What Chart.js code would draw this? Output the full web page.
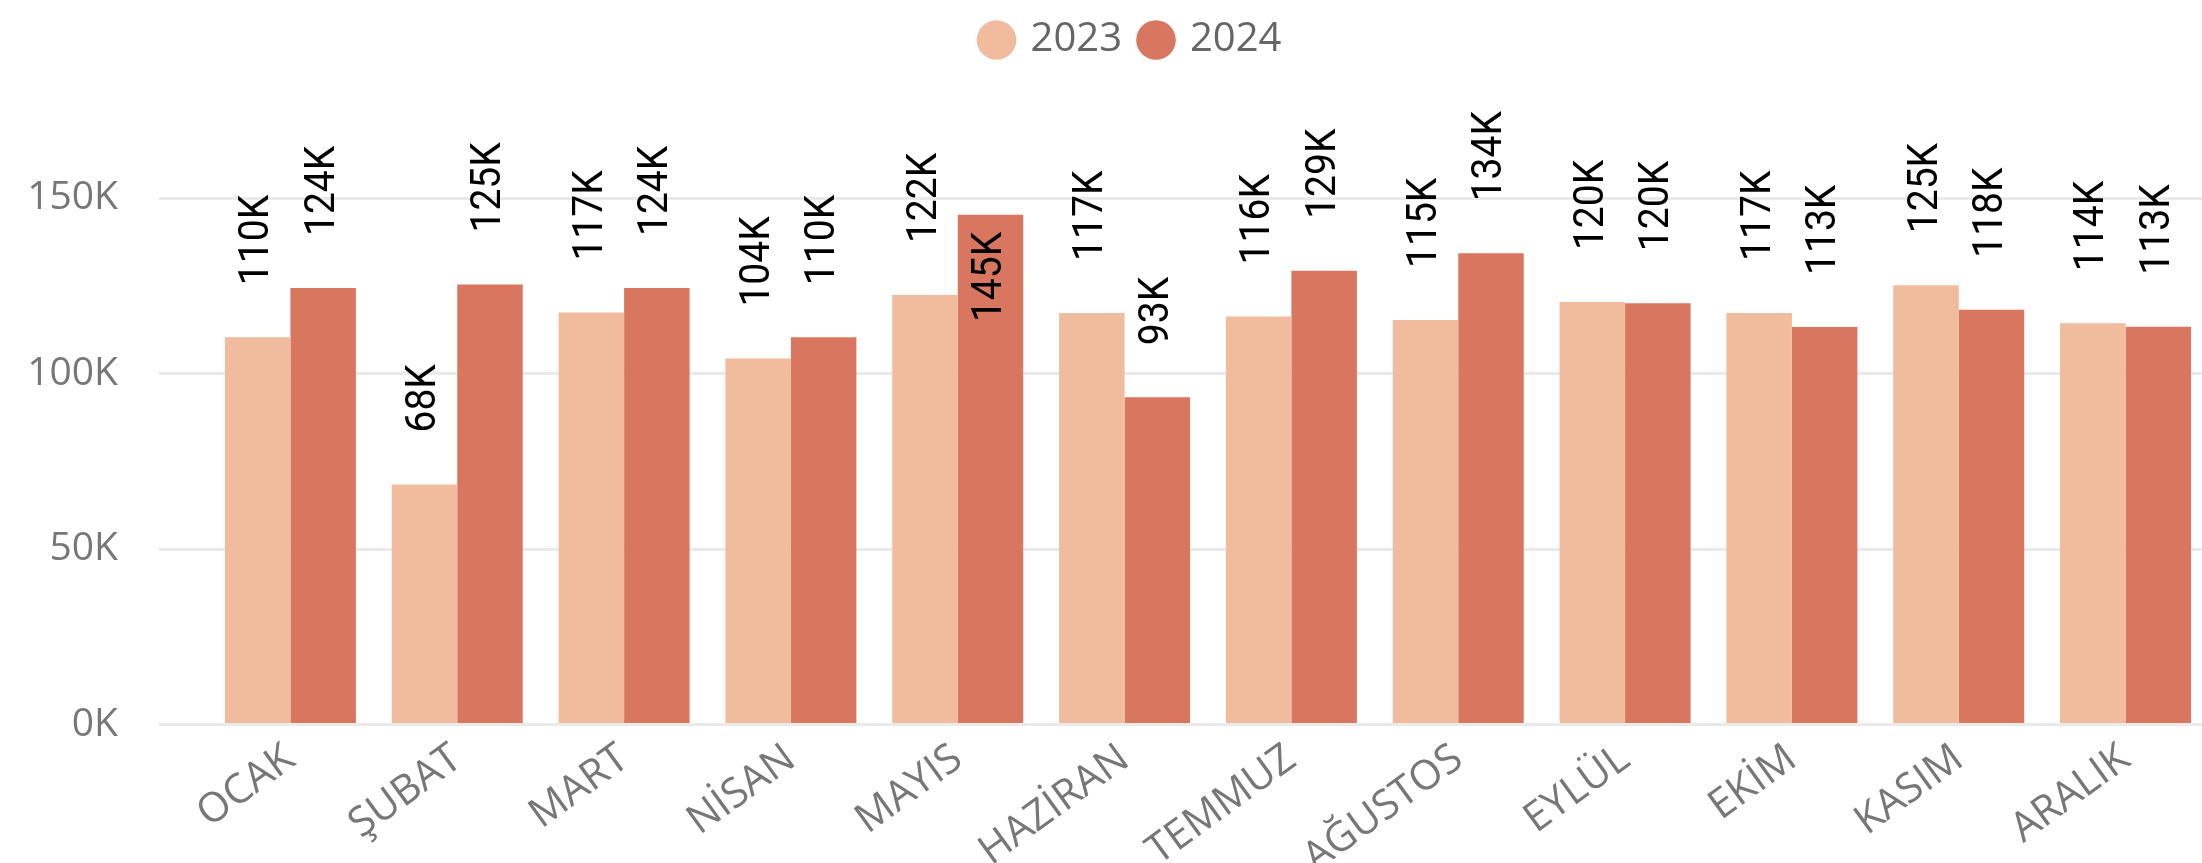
<!DOCTYPE html>
<html>
<head>
<meta charset="utf-8">
<script src="https://cdn.jsdelivr.net/npm/chart.js@4.4.1/dist/chart.umd.min.js"></script>
<style>
html, body { margin: 0; padding: 0; background: #fff; overflow: hidden; }
canvas { display: block; }
</style>
</head>
<body>
<canvas id="salesChart" width="2209" height="863"></canvas>
<script>
// months + yearly values
const months = ['OCAK', 'ŞUBAT', 'MART', 'NİSAN', 'MAYIS', 'HAZİRAN', 'TEMMUZ', 'AĞUSTOS', 'EYLÜL', 'EKİM', 'KASIM', 'ARALIK'];
const values2023 = [110400, 68400, 117400, 104300, 122400, 117300, 116300, 115300, 120400, 117300, 125200, 114400];
const values2024 = [124400, 125400, 124400, 110400, 145300, 93300, 129300, 134300, 120100, 113300, 118200, 113400];
const yTicks = [0, 50000, 100000, 150000];

const axisGrey = '#777777';
const gridGrey = '#EAEAEA';

// value labels, rotated, above the bar (or inside when no room)
const barLabels = {
  id: 'barLabels',
  afterDatasetsDraw(chart) {
    const ctx = chart.ctx;
    const area = chart.chartArea;
    const gap = 52;
    const insideGap = 17;
    const squeeze = 0.93;
    ctx.save();
    ctx.font = '42px Roboto, "DejaVu Sans Condensed", sans-serif';
    ctx.fillStyle = '#000';
    ctx.textBaseline = 'middle';
    chart.data.datasets.forEach((ds, i) => {
      chart.getDatasetMeta(i).data.forEach((bar, j) => {
        const text = Math.round(ds.data[j] / 1000) + 'K';
        const w = ctx.measureText(text).width * squeeze;
        ctx.save();
        ctx.translate(bar.x, bar.y);
        ctx.rotate(-Math.PI / 2);
        ctx.scale(squeeze, 1);
        if (bar.y - gap - w < area.top) {
          ctx.textAlign = 'right';
          ctx.fillText(text, -insideGap / squeeze, 0);
        } else {
          ctx.textAlign = 'left';
          ctx.fillText(text, gap / squeeze, 0);
        }
        ctx.restore();
      });
    });
    ctx.restore();
  }
};

// fixed legend height, legend centred a bit right of the canvas middle
const legendBox = {
  id: 'legendBox',
  beforeInit(chart) {
    const fit = chart.legend.fit;
    chart.legend.fit = function () {
      fit.call(this);
      this.height = 93;
    };
  },
  afterLayout(chart) {
    chart.legend.left = 55;
  }
};

Chart.defaults.font.family = '"Segoe UI", "Open Sans", "Noto Sans", sans-serif';
Chart.defaults.color = axisGrey;

new Chart(document.getElementById('salesChart'), {
  type: 'bar',
  data: {
    labels: months,
    datasets: [{
      label: '2023',
      data: values2023,
      backgroundColor: '#F1BC9D',
      categoryPercentage: 0.785,
      barPercentage: 1.0
    }, {
      label: '2024',
      data: values2024,
      backgroundColor: '#D97660',
      categoryPercentage: 0.785,
      barPercentage: 1.0
    }]
  },
  options: {
    responsive: false,
    animation: false,
    devicePixelRatio: 1,
    layout: { padding: 0 },
    plugins: {
      tooltip: { enabled: false },
      legend: {
        position: 'top',
        labels: {
          usePointStyle: true,
          pointStyle: 'circle',
          boxWidth: 28,
          boxHeight: 28,
          padding: 20,
          color: '#666666',
          font: { size: 40 }
        }
      }
    },
    scales: {
      x: {
        grid: { display: false, drawTicks: false },
        border: { display: false },
        ticks: {
          autoSkip: false,
          minRotation: 36,
          maxRotation: 36,
          padding: 10,
          color: axisGrey,
          font: { size: 41 }
        },
        afterFit(scale) { scale.height = 138.5; }
      },
      y: {
        min: 0,
        max: 180000,
        border: { display: false },
        grid: {
          color: gridGrey,
          lineWidth: 3,
          tickColor: gridGrey,
          tickWidth: 3,
          tickLength: 48
        },
        ticks: {
          padding: 41,
          color: axisGrey,
          font: { size: 39 },
          callback: v => (v / 1000) + 'K'
        },
        afterBuildTicks(scale) {
          scale.ticks = yTicks.map(v => ({ value: v }));
        },
        afterFit(scale) { scale.width = 207; }
      }
    }
  },
  plugins: [legendBox, barLabels]
});
</script>
</body>
</html>
